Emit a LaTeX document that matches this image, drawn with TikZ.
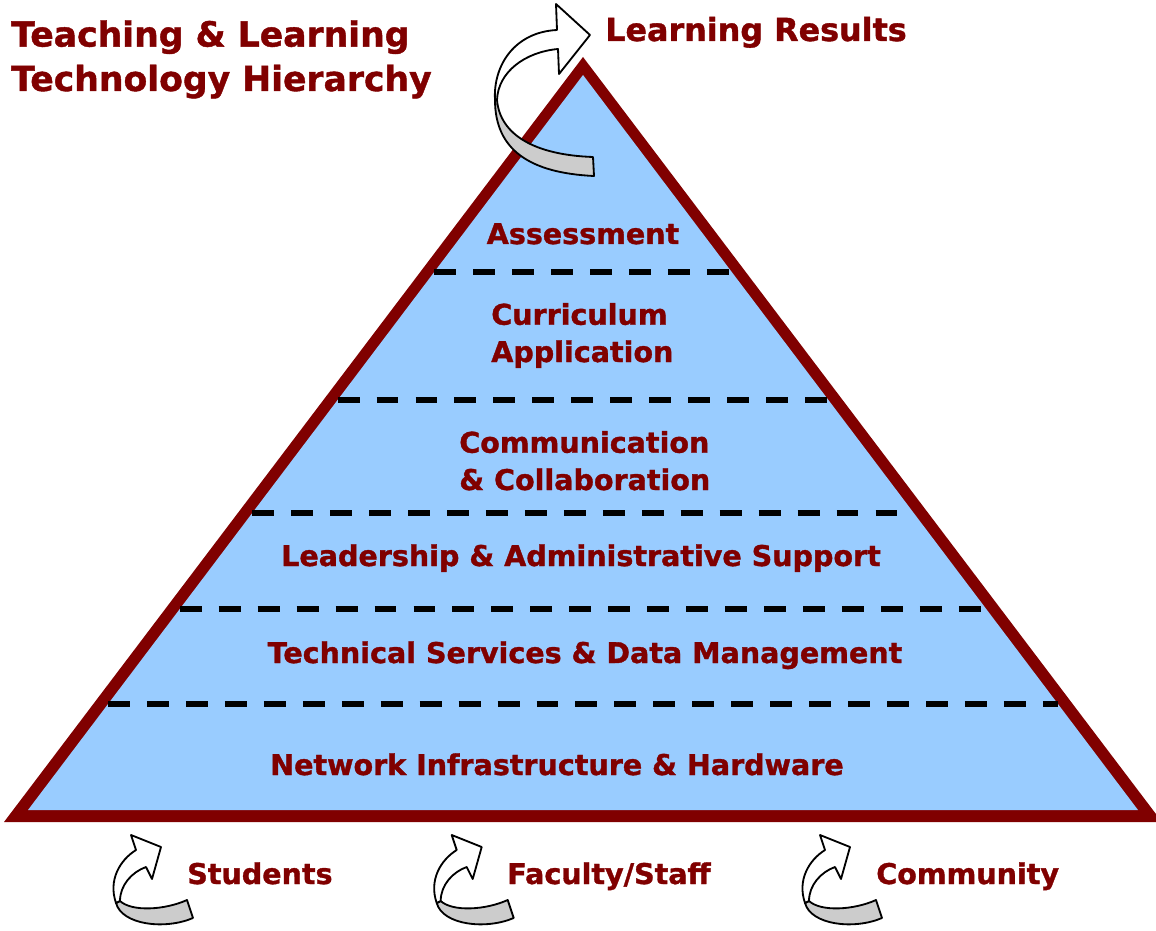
\documentclass[tikz,border=0pt]{standalone}
\usepackage{fontspec}
\setmainfont{DejaVu Sans}[BoldFeatures={FakeBold=1.2}]
\usetikzlibrary{calc}

\definecolor{pyrred}{RGB}{128,0,0}
\definecolor{pyrblue}{RGB}{153,204,255}
\definecolor{ribbongray}{RGB}{204,204,204}

\tikzset{
  layertext/.style={text=pyrred, inner sep=0pt, font={\fontsize{20.3}{26.5}\selectfont\bfseries}},
  titletext/.style={text=pyrred, inner sep=0pt, align=left, font={\fontsize{24.6}{31.6}\selectfont\bfseries}},
  resulttext/.style={text=pyrred, inner sep=0pt, font={\fontsize{22.6}{27}\selectfont\bfseries}},
  layerline/.style={line width=4.3pt, dash pattern=on 15.6pt off 12.1pt},
  ribbonfront/.style={fill=white, draw=black, line width=1.3pt, line join=round},
  ribbonback/.style={fill=ribbongray, draw=black, line width=1.3pt, line join=round},
  turnarrow/.pic={
    \filldraw[ribbonback] (-34,23) .. controls (-28,45) and (15,50) .. (43,38) -- (37,20)
      .. controls (15,30) and (-18,32) .. (-30,21) -- cycle;
    \filldraw[ribbonfront] (-14,-30) -- (-19,-45) -- (11,-33) -- (2,-1) -- (-4,-13)
      .. controls (-18,-8) and (-30,5) .. (-30,21) -- (-34,23)
      .. controls (-42,0) and (-30,-20) .. (-14,-30) -- cycle;
  }
}

\begin{document}
\begin{tikzpicture}[x=0.025cm, y=-0.025cm]
    \useasboundingbox (0,0) rectangle (1156,931);

    \coordinate (oA) at (583,57);
    \coordinate (oL) at (4,822);
    \coordinate (oR) at (1162,822);
    \coordinate (iA) at (583,75);
    \coordinate (iL) at (28,810);
    \coordinate (iR) at (1138,810);

    \fill[pyrred] (oA) -- (oL) -- (oR) -- cycle;
    \fill[pyrblue] (iA) -- (iL) -- (iR) -- cycle;

    \foreach \y in {272,400,513,609,704}{
        \pgfmathsetmacro\t{(\y-75)/735}
        \draw[layerline] ($(iA)!\t!(iL)$) -- ($(iA)!\t!(iR)$);
    }

    \node[layertext, anchor=base] (assess) at (583,244) {Assessment};
    \node[layertext, anchor=base west, align=left] (curric) at (491,362) {Curriculum\\Application};
    \node[layertext, anchor=base west, align=left] (commun) at (459,490) {Communication\\\& Collaboration};
    \node[layertext, anchor=base] (leader) at (581,566) {Leadership \& Administrative Support};
    \node[layertext, anchor=base] (techserv) at (585,663) {Technical Services \& Data Management};
    \node[layertext, anchor=base] (network) at (557,775) {Network Infrastructure \& Hardware};

    \node[titletext, anchor=base west] (title) at (11,91) {Teaching \& Learning\\Technology Hierarchy};
    \node[resulttext, anchor=base west] (results) at (605,41) {Learning Results};

    \filldraw[ribbonback] (495,100) .. controls (495,150) and (530,173) .. (594,176) -- (593,157)
        .. controls (535,155) and (500,135) .. (497,100) -- cycle;
    \filldraw[ribbonfront] (557,30) -- (556,4) -- (590,35) -- (559,74) -- (558,49)
        .. controls (525,52) and (498,72) .. (497,100) -- (495,100)
        .. controls (493,65) and (515,32) .. (557,30) -- cycle;

    \pic at (150,880) {turnarrow};
    \pic at (470.7,880) {turnarrow};
    \pic at (839,880) {turnarrow};

    \node[layertext, anchor=base west] (students) at (187,884) {Students};
    \node[layertext, anchor=base west] (faculty) at (507,884) {Faculty/Staff};
    \node[layertext, anchor=base west] (community) at (876,884) {Community};
\end{tikzpicture}
\end{document}
